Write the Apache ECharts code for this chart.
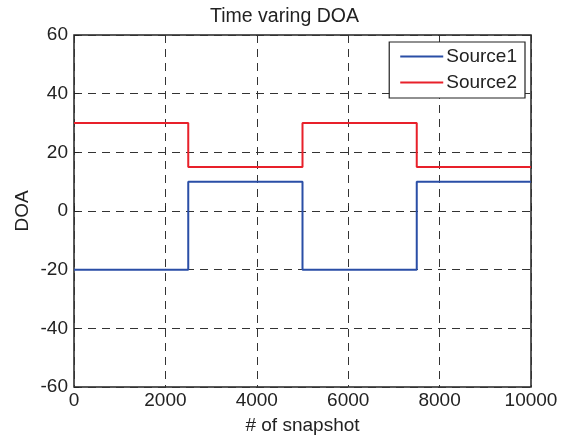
<!DOCTYPE html>
<html>
<head>
<meta charset="utf-8">
<script src="https://cdn.jsdelivr.net/npm/echarts@6/dist/echarts.min.js"></script>
<style>html,body{margin:0;padding:0;background:#fff}#b{width:569px;height:441px}</style>
</head>
<body>
<div id="b"></div>
<script>
var snapshots=[0,2500,5000,7500,10000];
var source1=[-20,10,-20,10,10];
var source2=[30,15,30,15,15];

function pts(v){
    return snapshots.map(function(x,i){return [x,v[i]];});
}
var myChart=echarts.init(document.getElementById('b'));
var fnt='Liberation Sans';
option = {
    title:{text:'Time varing DOA',left:'center',top:2,textStyle:{fontFamily:fnt,fontSize:19.5,fontWeight:'normal',color:'#222'}},
    grid:{left:74,right:38,top:35,bottom:54,show:true,borderColor:'#222',borderWidth:1.5,backgroundColor:'#fff'},
    xAxis:{
        type:'value',min:0,max:10000,interval:2000,
        name:'# of snapshot',nameLocation:'middle',nameGap:29,
        nameTextStyle:{fontFamily:fnt,fontSize:19,color:'#222'},
        axisLine:{show:false},
        axisTick:{show:true,inside:true,length:5,lineStyle:{color:'#222'}},
        axisLabel:{fontFamily:fnt,fontSize:19,color:'#222',margin:4,formatter:function(v){return String(v);}},
        splitLine:{show:true,lineStyle:{color:'#333',type:[8,6],width:1}}
    },
    yAxis:{
        type:'value',min:-60,max:60,interval:20,
        name:'DOA',nameLocation:'middle',nameGap:42,nameMoveOverlap:false,
        nameTextStyle:{fontFamily:fnt,fontSize:19,color:'#222'},
        axisLine:{show:false},
        axisTick:{show:true,inside:true,length:5,lineStyle:{color:'#222'}},
        axisLabel:{fontFamily:fnt,fontSize:19,color:'#222',margin:6},
        splitLine:{show:true,lineStyle:{color:'#333',type:[8,6],width:1}}
    },
    legend:{
        orient:'vertical',right:44,top:42,
        backgroundColor:'#fff',borderColor:'#222',borderWidth:1.2,borderRadius:0,
        padding:[5,8,6,11],itemGap:7,itemWidth:43,itemHeight:14,
        icon:'path://M0,6 L43,6 L43,8 L0,8 Z',
        textStyle:{fontFamily:fnt,fontSize:19,color:'#222',padding:[0,0,0,-2]},
        data:['Source1','Source2']
    },
    series:[
        {name:'Source1',type:'line',step:'end',data:pts(source1),showSymbol:false,
         lineStyle:{color:'#2a4ea6',width:2},itemStyle:{color:'#2a4ea6'}},
        {name:'Source2',type:'line',step:'end',data:pts(source2),showSymbol:false,
         lineStyle:{color:'#e8202a',width:2},itemStyle:{color:'#e8202a'}}
    ],
    animation:false
};
option && myChart.setOption(option);
</script>
</body>
</html>
